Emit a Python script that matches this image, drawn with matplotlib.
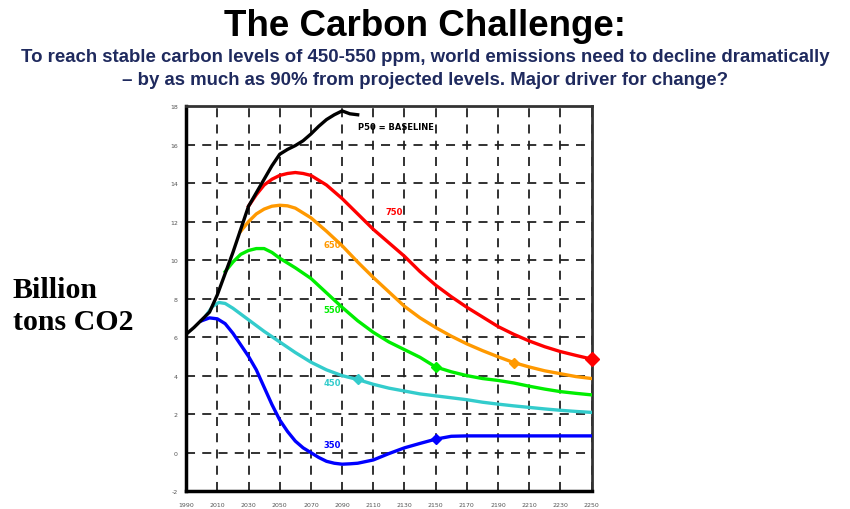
import matplotlib.pyplot as plt

plt.rcParams['axes.unicode_minus'] = False

# baseline (P50)
base_years = [1990, 1995, 2000, 2005, 2010, 2015, 2020, 2025, 2030, 2035, 2040, 2045,
              2050, 2055, 2060, 2065, 2070, 2075, 2080, 2085, 2090, 2095, 2100]
base_vals = [6.15, 6.5, 6.9, 7.3, 8.2, 9.3, 10.4, 11.6, 12.8, 13.5, 14.2, 14.9,
             15.5, 15.75, 15.95, 16.2, 16.55, 16.95, 17.3, 17.55, 17.75, 17.6, 17.55]

# 750 ppm
s750_years = [2030, 2035, 2040, 2045, 2050, 2055, 2060, 2065, 2070, 2080, 2090, 2100,
              2110, 2120, 2130, 2140, 2150, 2160, 2170, 2180, 2190, 2200, 2210, 2220,
              2230, 2240, 2250]
s750_vals = [12.8, 13.4, 13.9, 14.2, 14.4, 14.5, 14.55, 14.5, 14.4, 13.9, 13.2, 12.4,
             11.6, 10.9, 10.2, 9.4, 8.7, 8.1, 7.55, 7.05, 6.55, 6.15, 5.8, 5.5,
             5.25, 5.05, 4.86]

# 650 ppm
s650_years = [2025, 2030, 2035, 2040, 2045, 2050, 2055, 2060, 2070, 2080, 2090, 2100,
              2110, 2120, 2130, 2140, 2150, 2160, 2170, 2180, 2190, 2200, 2210, 2220,
              2230, 2240, 2250]
s650_vals = [11.5, 12.0, 12.4, 12.65, 12.8, 12.85, 12.82, 12.7, 12.2, 11.5, 10.75, 9.9,
             9.1, 8.35, 7.6, 7.0, 6.5, 6.05, 5.65, 5.3, 4.98, 4.68, 4.45, 4.25,
             4.1, 3.95, 3.85]

# 550 ppm
s550_years = [2015, 2020, 2025, 2030, 2035, 2040, 2045, 2050, 2060, 2070, 2080, 2090,
              2100, 2110, 2120, 2130, 2140, 2150, 2160, 2170, 2180, 2190, 2200, 2210,
              2220, 2230, 2240, 2250]
s550_vals = [9.4, 9.9, 10.3, 10.5, 10.6, 10.6, 10.4, 10.1, 9.6, 9.05, 8.3, 7.55,
             6.85, 6.25, 5.75, 5.35, 4.95, 4.45, 4.2, 4.0, 3.85, 3.75, 3.62, 3.45,
             3.3, 3.17, 3.08, 3.0]

# 450 ppm
s450_years = [2003, 2007, 2011, 2015, 2020, 2030, 2040, 2050, 2060, 2070, 2080, 2090,
              2100, 2110, 2120, 2130, 2140, 2150, 2160, 2170, 2180, 2190, 2200, 2210,
              2220, 2230, 2240, 2250]
s450_vals = [7.15, 7.6, 7.8, 7.75, 7.5, 6.9, 6.3, 5.75, 5.2, 4.7, 4.3, 4.0,
             3.8, 3.55, 3.35, 3.2, 3.05, 2.95, 2.85, 2.75, 2.62, 2.52, 2.43, 2.35,
             2.27, 2.2, 2.14, 2.09]

# 350 ppm
s350_years = [2000, 2005, 2010, 2015, 2020, 2025, 2030, 2035, 2040, 2045, 2050, 2055,
              2060, 2065, 2070, 2075, 2080, 2085, 2090, 2095, 2100, 2110, 2120, 2130,
              2140, 2150, 2160, 2170, 2250]
s350_vals = [6.85, 7.0, 6.95, 6.7, 6.2, 5.6, 5.0, 4.3, 3.4, 2.5, 1.7, 1.1,
             0.6, 0.25, 0.0, -0.25, -0.45, -0.55, -0.6, -0.58, -0.55, -0.38, -0.05, 0.25,
             0.48, 0.7, 0.85, 0.87, 0.87]

x_ticks = list(range(1990, 2251, 20))
y_ticks = list(range(-2, 19, 2))

fig = plt.figure(figsize=(8.5, 5.1), dpi=100)
ax = fig.add_axes([0.219, 0.035, 0.477, 0.755])

ax.plot(base_years, base_vals, color='black', lw=2.4, zorder=5)
ax.plot(s750_years, s750_vals, color='#ff0000', lw=2.4, zorder=4)
ax.plot(s650_years, s650_vals, color='#ff9900', lw=2.4, zorder=4)
ax.plot(s550_years, s550_vals, color='#00ee00', lw=2.4, zorder=4)
ax.plot(s450_years, s450_vals, color='#33cccc', lw=2.4, zorder=4)
ax.plot(s350_years, s350_vals, color='#0000ff', lw=2.4, zorder=4)

# diamond markers
ax.plot(s750_years[-1], s750_vals[-1], 'D', color='#ff0000', ms=7, zorder=6, clip_on=False)
ax.plot(s650_years[21], s650_vals[21], 'D', color='#ff9900', ms=5.5, zorder=6)
ax.plot(s550_years[17], s550_vals[17], 'D', color='#00ee00', ms=5.5, zorder=6)
ax.plot(s450_years[12], s450_vals[12], 'D', color='#33cccc', ms=5.5, zorder=6)
ax.plot(s350_years[25], s350_vals[25], 'D', color='#0000ff', ms=5.5, zorder=6)

# curve labels
ax.text(2100, 16.95, 'P50 = BASELINE', fontsize=6, fontweight='bold', color='black', va='center')
ax.text(2118, 12.55, '750', fontsize=6, fontweight='bold', color='#ff0000', va='center')
ax.text(2078, 10.8, '650', fontsize=6, fontweight='bold', color='#ff9900', va='center')
ax.text(2078, 7.45, '550', fontsize=6, fontweight='bold', color='#00ee00', va='center')
ax.text(2078, 3.65, '450', fontsize=6, fontweight='bold', color='#33cccc', va='center')
ax.text(2078, 0.44, '350', fontsize=6, fontweight='bold', color='#0000ff', va='center')

ax.set_xlim(1990, 2250)
ax.set_ylim(-2, 18)
ax.set_xticks(x_ticks)
ax.set_yticks(y_ticks)
ax.tick_params(axis='y', length=0, labelsize=4.5, labelcolor='#555555', pad=6)
ax.tick_params(axis='x', length=0, labelsize=4.5, labelcolor='#555555', pad=8)
ax.grid(True, color='#222222', ls=(0, (5, 4)), lw=1.3)
for side in ['left', 'bottom']:
    ax.spines[side].set_linewidth(2.5)
    ax.spines[side].set_color('black')
for side in ['top', 'right']:
    ax.spines[side].set_linewidth(2)
    ax.spines[side].set_color('#333333')

fig.text(0.5, 0.948, 'The Carbon Challenge:', ha='center', va='center',
         fontsize=26.5, fontweight='bold', family='Liberation Sans')
fig.text(0.5, 0.888, 'To reach stable carbon levels of 450-550 ppm, world emissions need to decline dramatically',
         ha='center', va='center', fontsize=13.4, fontweight='bold', color='#1f2a5e',
         family='Liberation Sans')
fig.text(0.5, 0.843, '\u2013 by as much as 90% from projected levels. Major driver for change?',
         ha='center', va='center', fontsize=13.4, fontweight='bold', color='#1f2a5e',
         family='Liberation Sans')

fig.text(0.015, 0.416, 'Billion', ha='left', va='baseline', fontsize=21.5,
         fontweight='bold', family='Liberation Serif')
fig.text(0.015, 0.353, 'tons CO2', ha='left', va='baseline', fontsize=21.5,
         fontweight='bold', family='Liberation Serif')

fig.savefig('out.png', dpi=100)
